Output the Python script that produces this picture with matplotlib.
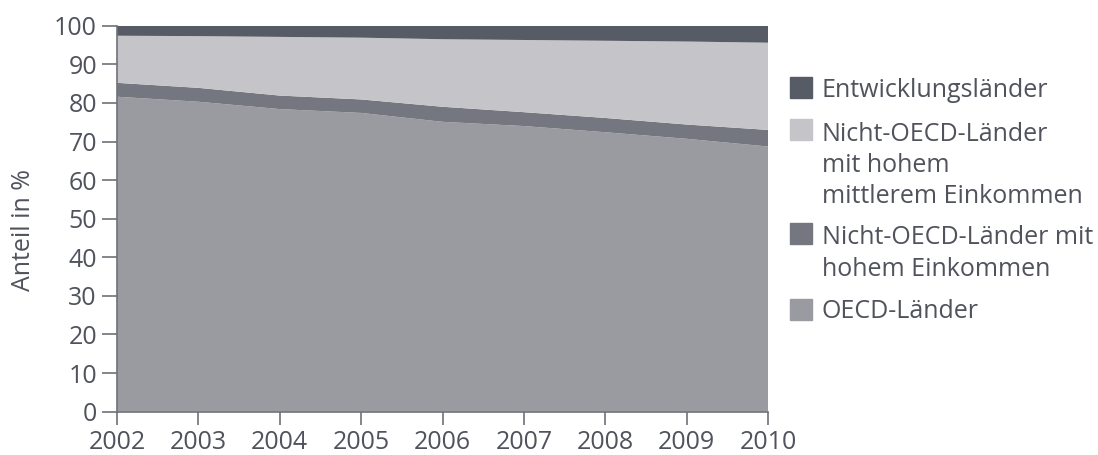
import numpy as np
import matplotlib.pyplot as plt
from matplotlib.patches import Rectangle

plt.rcParams['font.family'] = ['Open Sans', 'DejaVu Sans']

# Data (share in %)
years = [2002, 2003, 2004, 2005, 2006, 2007, 2008, 2009, 2010]
oecd = [81.6, 80.3, 78.4, 77.4, 75.1, 74.0, 72.4, 70.7, 68.7]
non_oecd_high = [3.6, 3.6, 3.5, 3.5, 3.9, 3.6, 3.7, 3.7, 4.3]
non_oecd_upper_mid = [12.2, 13.4, 15.2, 16.0, 17.5, 18.7, 20.0, 21.5, 22.6]
developing = [2.6, 2.7, 2.9, 3.1, 3.5, 3.7, 3.9, 4.1, 4.4]

labels = ['OECD-Länder',
          'Nicht-OECD-Länder mit\nhohem Einkommen',
          'Nicht-OECD-Länder\nmit hohem\nmittlerem Einkommen',
          'Entwicklungsländer']
colors = ['#9a9ba0', '#757780', '#c5c4c9', '#575b66']
text_color = '#50535c'
axis_color = '#6e717a'

fig = plt.figure(figsize=(10.98, 4.55), dpi=100)
ax = fig.add_axes([0.1066, 0.0952, 0.5929, 0.8483])

ax.stackplot(years, oecd, non_oecd_high, non_oecd_upper_mid, developing,
             colors=colors, linewidth=0)

ax.set_xlim(2002, 2010)
ax.set_ylim(0, 100)
ax.set_xticks(years)
ax.set_yticks(range(0, 101, 10))

for side in ['top', 'right']:
    ax.spines[side].set_visible(False)
for side in ['left', 'bottom']:
    ax.spines[side].set_color(axis_color)
    ax.spines[side].set_linewidth(1.2)

ax.tick_params(axis='y', direction='out', length=11, width=1.2, color=axis_color,
               labelsize=18, labelcolor=text_color, pad=3.5)
ax.tick_params(axis='x', direction='out', length=9.5, width=1.2, color=axis_color,
               labelsize=18, labelcolor=text_color, pad=4)

ax.set_ylabel('Anteil in %', fontsize=18, color=text_color)
ax.yaxis.set_label_coords(-0.124, 0.47)

# Legend drawn manually (top entry first); baseline is set on the last line
patch_bottoms = [0.7846, 0.6923, 0.4637, 0.2967]
text_baselines = [0.7868, 0.6967, 0.4659, 0.3011]
line_step = 32.5 / 455
for lab, col, yb, yt in zip(labels[::-1], colors[::-1], patch_bottoms, text_baselines):
    fig.patches.append(Rectangle((0.7195, yb), 0.0200, 0.0462,
                                 transform=fig.transFigure, color=col))
    n_lines = lab.count('\n')
    fig.text(0.7486, yt - n_lines * line_step, lab, fontsize=18, color=text_color,
             va='baseline', ha='left', linespacing=1.32)

fig.savefig('out.png', dpi=100)
